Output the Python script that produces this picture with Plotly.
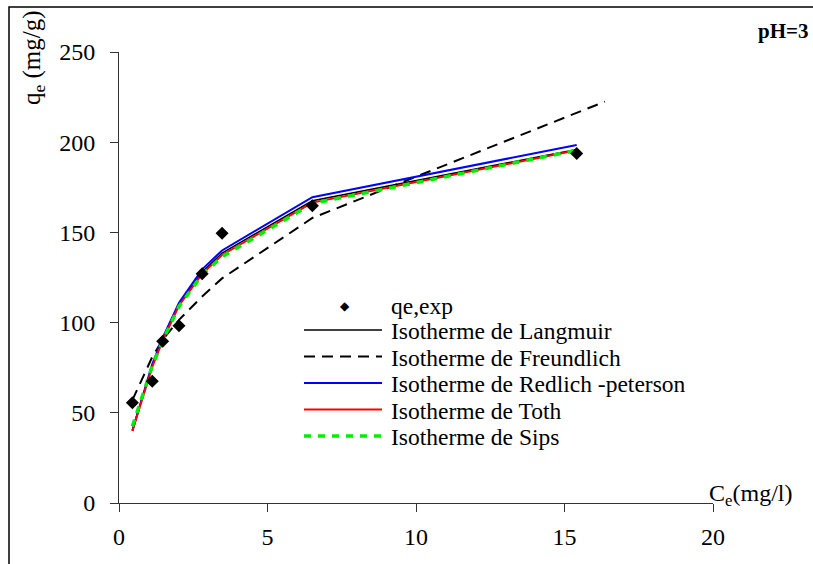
import plotly.graph_objects as go

# Experimental equilibrium data, pH = 3
ce_exp = [0.45, 1.12, 1.47, 2.02, 2.80, 3.47, 6.51, 15.41]
qe_exp = [55.6, 67.5, 89.6, 98.3, 127.1, 149.5, 164.8, 193.8]

# Model isotherms evaluated at the experimental concentrations
ce_model = [0.45, 1.12, 1.47, 2.02, 2.80, 3.47, 6.51, 15.41]
q_langmuir = [40.5, 76.0, 90.5, 110.0, 128.0, 138.5, 167.5, 196.0]
q_redlich = [40.0, 77.0, 91.5, 111.0, 129.5, 140.0, 169.5, 198.5]
q_toth = [40.0, 75.5, 90.0, 109.5, 127.0, 137.5, 166.5, 195.5]
q_sips = [42.5, 76.0, 90.0, 109.0, 126.5, 136.5, 166.0, 195.5]

ce_freundlich = [0.45, 1.12, 1.47, 2.02, 2.80, 3.47, 6.51, 16.36]
q_freundlich = [57.0, 81.0, 90.5, 101.5, 114.5, 124.5, 158.0, 222.5]

x_ticks = [0, 5, 10, 15, 20]
y_ticks = [0, 50, 100, 150, 200, 250]

FONT = "Liberation Serif"

# Plot-area geometry in pixels (figure is 813 x 564)
W, H = 813, 564
L, R, T, B = 119, 100, 52, 61
PW, PH = W - L - R, H - T - B


def px_x(px):
    return (px - L) / PW


def px_y(py):
    return (H - B - py) / PH


styles = {
    "Isotherme de Langmuir": dict(color="black", width=1.5, dash="solid"),
    "Isotherme de Freundlich": dict(color="black", width=2, dash="11px,7px"),
    "Isotherme de Redlich -peterson": dict(color="#0000ff", width=2, dash="solid"),
    "Isotherme de Toth": dict(color="#ff0000", width=2, dash="solid"),
    "Isotherme de Sips": dict(color="#00ee00", width=3.5, dash="7px,7px"),
}

series = [
    ("Isotherme de Langmuir", ce_model, q_langmuir),
    ("Isotherme de Freundlich", ce_freundlich, q_freundlich),
    ("Isotherme de Redlich -peterson", ce_model, q_redlich),
    ("Isotherme de Toth", ce_model, q_toth),
    ("Isotherme de Sips", ce_model, q_sips),
]

fig = go.Figure()
for name, xs, ys in series:
    fig.add_trace(go.Scatter(x=xs, y=ys, mode="lines", name=name,
                             line=styles[name], showlegend=False))

fig.add_trace(go.Scatter(x=ce_exp, y=qe_exp, mode="markers", name="qe,exp",
                         marker=dict(symbol="diamond", size=10, color="black"),
                         showlegend=False))

# Legend block drawn inside the plot area
shapes = []
annotations = []
legend_rows = [
    ("qe,exp", 304.5),
    ("Isotherme de Langmuir", 330.0),
    ("Isotherme de Freundlich", 356.5),
    ("Isotherme de Redlich -peterson", 383.0),
    ("Isotherme de Toth", 409.5),
    ("Isotherme de Sips", 436.0),
]
key_x0, key_x1, text_x = 304, 382, 389
for label, ry in legend_rows:
    if label == "qe,exp":
        annotations.append(dict(xref="paper", yref="paper", x=px_x(345), y=px_y(ry + 1.5),
                                xanchor="center", yanchor="middle",
                                text="\u25c6", showarrow=False,
                                font=dict(family="DejaVu Sans", size=12, color="black")))
    else:
        st = styles[label]
        shapes.append(dict(type="line", xref="paper", yref="paper",
                           x0=px_x(key_x0), x1=px_x(key_x1),
                           y0=px_y(ry), y1=px_y(ry),
                           line=dict(color=st["color"], width=st["width"], dash=st["dash"])))
    annotations.append(dict(xref="paper", yref="paper", x=px_x(text_x), y=px_y(ry + 1),
                            xanchor="left", yanchor="middle", text=label,
                            showarrow=False, font=dict(family=FONT, size=23.5, color="black")))

# Outer chart frame
shapes.append(dict(type="rect", xref="paper", yref="paper",
                   x0=px_x(9), x1=px_x(W + 20), y0=px_y(H + 20), y1=px_y(7),
                   line=dict(color="black", width=1.5), fillcolor="rgba(0,0,0,0)",
                   layer="below"))

annotations += [
    dict(xref="paper", yref="paper", x=px_x(33), y=px_y(58), textangle=-90,
         xanchor="center", yanchor="middle",
         text="q<sub>e</sub> (mg/g)", showarrow=False,
         font=dict(family=FONT, size=25, color="black")),
    dict(xref="paper", yref="paper", x=px_x(707), y=px_y(495), xanchor="left",
         yanchor="middle", text="C<sub>e</sub>(mg/l)", showarrow=False,
         font=dict(family=FONT, size=24, color="black")),
    dict(xref="paper", yref="paper", x=px_x(810), y=px_y(31), xanchor="right",
         yanchor="middle", text="<b>pH=3</b>", showarrow=False,
         font=dict(family=FONT, size=21, color="black")),
]

fig.update_layout(
    width=W, height=H,
    margin=dict(l=L, r=R, t=T, b=B, pad=0),
    paper_bgcolor="white", plot_bgcolor="white",
    showlegend=False,
    shapes=shapes,
    annotations=annotations,
    xaxis=dict(range=[0, 20], tickvals=x_ticks, ticks="outside", ticklen=8,
               tickcolor="#333", showline=True, linecolor="#333", linewidth=1,
               showgrid=False, zeroline=False, ticklabelstandoff=4,
               tickfont=dict(family=FONT, size=24, color="black")),
    yaxis=dict(range=[0, 250], tickvals=y_ticks, ticks="outside", ticklen=8,
               tickcolor="#333", showline=True, linecolor="#333", linewidth=1,
               showgrid=False, zeroline=False, ticklabelstandoff=10,
               tickfont=dict(family=FONT, size=24, color="black")),
)

fig.write_html("out.html")
